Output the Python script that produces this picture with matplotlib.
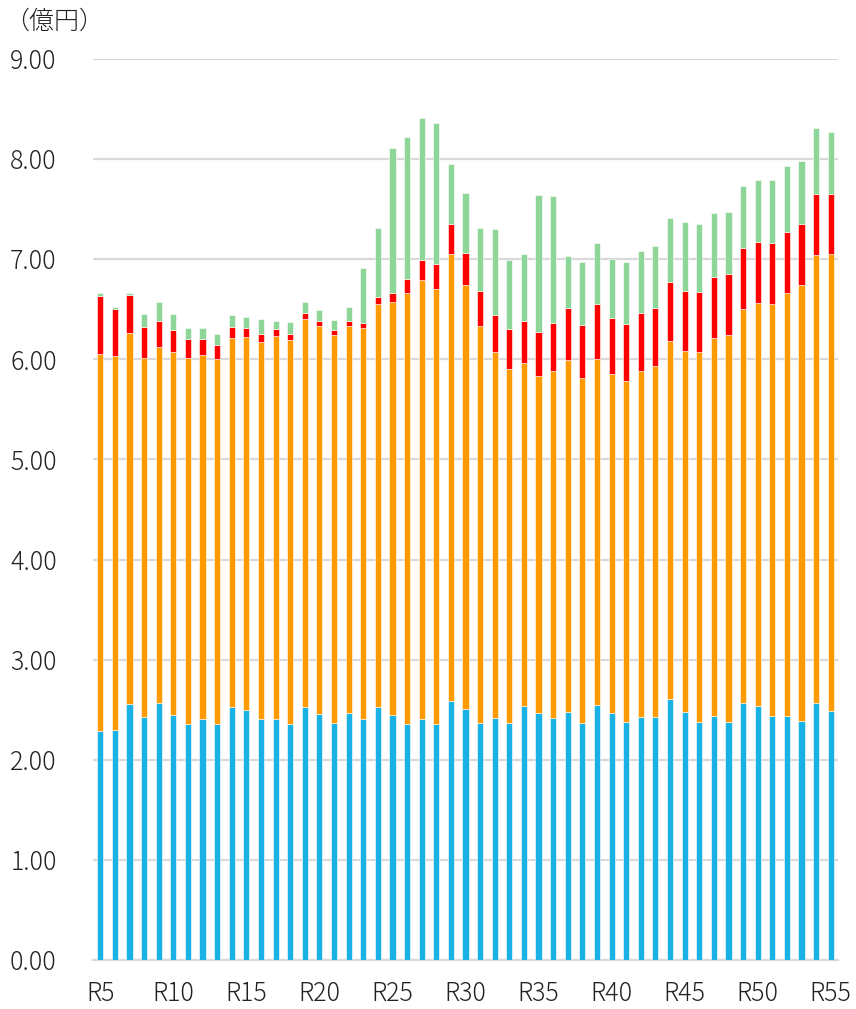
import matplotlib.pyplot as plt
import numpy as np

plt.rcParams['font.family'] = ['Noto Sans CJK JP', 'DejaVu Sans']

# 年度ラベル R5 ... R55
years = ["R" + str(n) for n in range(5, 56)]

# 各区分の金額（億円）
blue = [2.29, 2.30, 2.56, 2.43, 2.57, 2.45, 2.36, 2.41, 2.36, 2.53,
        2.50, 2.41, 2.41, 2.36, 2.53, 2.46, 2.37, 2.47, 2.41, 2.53,
        2.45, 2.36, 2.41, 2.36, 2.59, 2.51, 2.37, 2.42, 2.37, 2.54,
        2.47, 2.42, 2.48, 2.37, 2.55, 2.47, 2.38, 2.43, 2.43, 2.61,
        2.48, 2.38, 2.44, 2.38, 2.57, 2.54, 2.44, 2.44, 2.39, 2.57,
        2.49]
orange = [3.76, 3.73, 3.70, 3.58, 3.55, 3.62, 3.65, 3.63, 3.64, 3.68,
          3.72, 3.76, 3.82, 3.83, 3.87, 3.87, 3.87, 3.86, 3.90, 4.02,
          4.12, 4.30, 4.38, 4.34, 4.46, 4.23, 3.96, 3.65, 3.53, 3.42,
          3.36, 3.46, 3.51, 3.44, 3.45, 3.38, 3.40, 3.45, 3.50, 3.57,
          3.60, 3.69, 3.77, 3.86, 3.93, 4.02, 4.11, 4.22, 4.35, 4.47,
          4.56]
red = [0.58, 0.47, 0.38, 0.31, 0.26, 0.22, 0.19, 0.16, 0.14, 0.11,
       0.09, 0.08, 0.07, 0.06, 0.06, 0.05, 0.05, 0.05, 0.05, 0.07,
       0.09, 0.14, 0.20, 0.25, 0.30, 0.32, 0.35, 0.37, 0.40, 0.42,
       0.44, 0.48, 0.52, 0.53, 0.55, 0.56, 0.57, 0.58, 0.58, 0.59,
       0.60, 0.60, 0.61, 0.61, 0.61, 0.61, 0.61, 0.61, 0.61, 0.61,
       0.60]
green = [0.03, 0.02, 0.02, 0.13, 0.19, 0.16, 0.11, 0.11, 0.11, 0.12,
         0.11, 0.15, 0.08, 0.12, 0.11, 0.11, 0.10, 0.14, 0.55, 0.69,
         1.45, 1.42, 1.42, 1.41, 0.60, 0.60, 0.63, 0.86, 0.69, 0.67,
         1.37, 1.27, 0.52, 0.63, 0.61, 0.59, 0.62, 0.62, 0.62, 0.64,
         0.69, 0.68, 0.64, 0.62, 0.62, 0.62, 0.63, 0.66, 0.63, 0.66,
         0.62]

fig = plt.figure(figsize=(8.56, 10.09), dpi=100)
ax = fig.add_axes([0.1086, 0.0486, 0.8704, 0.8929])

x = np.arange(len(years))
w = 0.42
b1 = np.array(blue)
b2 = b1 + np.array(orange)
b3 = b2 + np.array(red)

ax.bar(x, blue, w, color="#1AB1E4", edgecolor="white", linewidth=0.4, zorder=3)
ax.bar(x, orange, w, bottom=b1, color="#FF9A00", edgecolor="white", linewidth=0.4, zorder=3)
ax.bar(x, red, w, bottom=b2, color="#FF0000", edgecolor="white", linewidth=0.4, zorder=3)
ax.bar(x, green, w, bottom=b3, color="#8ED598", edgecolor="white", linewidth=0.4, zorder=3)

ax.set_xlim(-0.5, len(years) - 0.5)
ax.set_ylim(0, 9)
ax.set_yticks(np.arange(0, 10, 1))
ax.set_yticklabels(["%.2f" % v for v in np.arange(0, 10, 1)], fontsize=18,
                   color="#222222", fontweight="light")
ax.set_xticks(x[::5])
ax.set_xticklabels(years[::5], fontsize=18, color="#222222", fontweight="light")
ax.tick_params(axis="y", length=0, pad=26)
ax.tick_params(axis="x", length=0, pad=15)

ax.grid(axis="y", color="#D9D9D9", linewidth=1.6, zorder=0)
for s in ["top", "right", "left"]:
    ax.spines[s].set_visible(False)
ax.spines["bottom"].set_color("#D9D9D9")
ax.spines["bottom"].set_linewidth(1.6)

fig.text(0.005, 0.979, "（億円）", fontsize=18, color="#222222", va="center",
         ha="left", fontweight="light")

plt.savefig("out.png", dpi=100)
